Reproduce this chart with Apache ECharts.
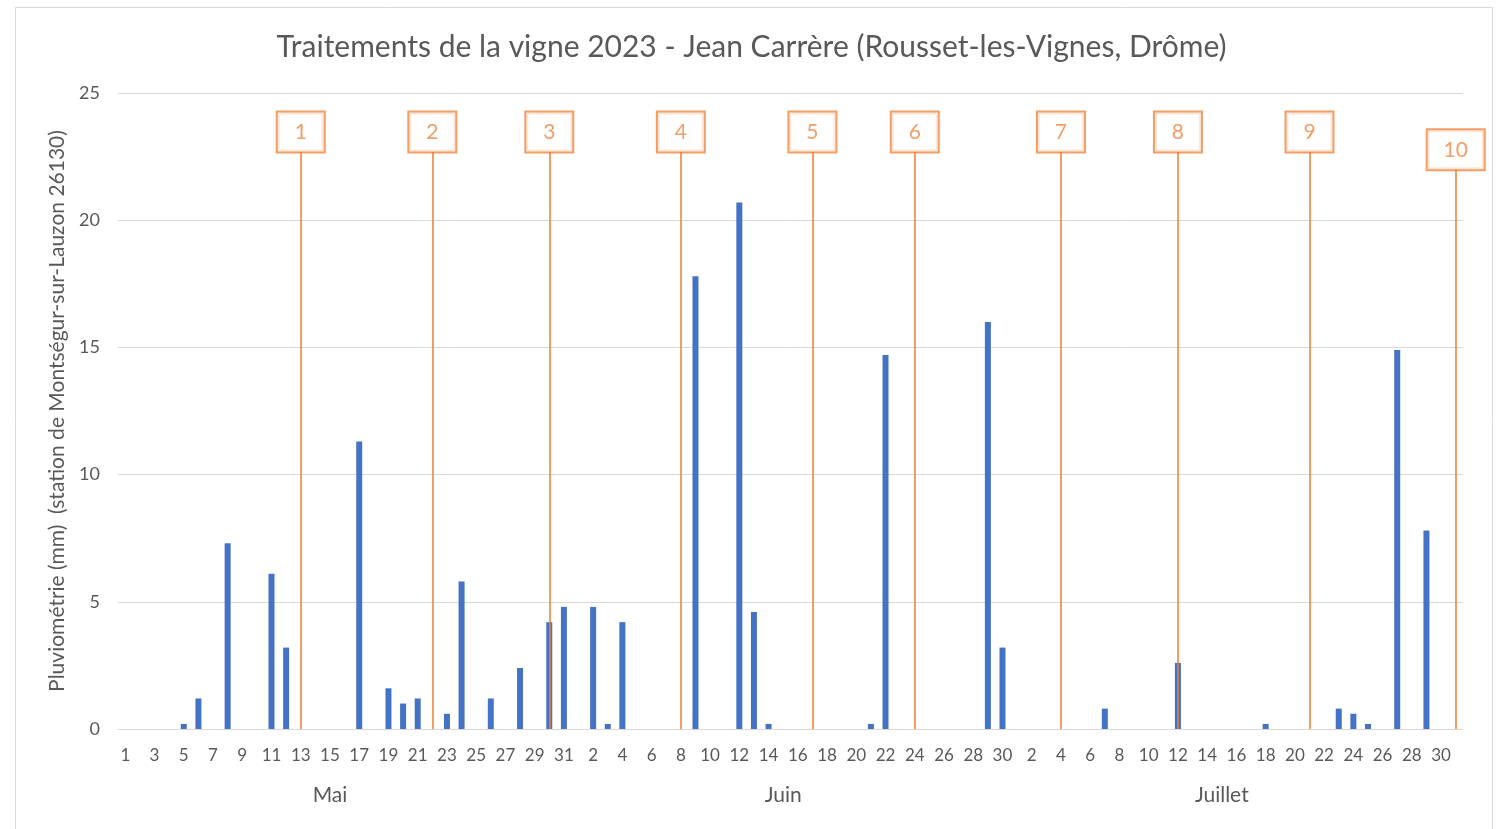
<!DOCTYPE html>
<html>
<head>
<meta charset="utf-8">
<script src="https://cdn.jsdelivr.net/npm/echarts@6/dist/echarts.min.js"></script>
<style>
html,body{margin:0;padding:0;background:#fff;}
#chart{width:1503px;height:829px;}
</style>
</head>
<body>
<div id="chart"></div>
<script>
// ---- Data ----
const titleText = 'Traitements de la vigne 2023 - Jean Carrère (Rousset-les-Vignes, Drôme)';
const yAxisTitle = 'Pluviométrie (mm)  (station de Montségur-sur-Lauzon 26130)';
const months = ['Mai', 'Juin', 'Juillet'];
const monthNumbers = ['05', '06', '07'];
const monthLengths = [31, 30, 31];
const yTicks = [0, 5, 10, 15, 20, 25];

const rainDates = ['2023-05-05','2023-05-06','2023-05-08','2023-05-11','2023-05-12','2023-05-17','2023-05-19','2023-05-20','2023-05-21','2023-05-23','2023-05-24','2023-05-26','2023-05-28','2023-05-30','2023-05-31','2023-06-02','2023-06-03','2023-06-04','2023-06-09','2023-06-12','2023-06-13','2023-06-14','2023-06-21','2023-06-22','2023-06-29','2023-06-30','2023-07-07','2023-07-12','2023-07-18','2023-07-23','2023-07-24','2023-07-25','2023-07-27','2023-07-29'];
const rainValues = [0.2,1.2,7.3,6.1,3.2,11.3,1.6,1.0,1.2,0.6,5.8,1.2,2.4,4.2,4.8,4.8,0.2,4.2,17.8,20.7,4.6,0.2,0.2,14.7,16.0,3.2,0.8,2.6,0.2,0.8,0.6,0.2,14.9,7.8];

const treatmentDates = ['2023-05-13','2023-05-22','2023-05-30','2023-06-08','2023-06-17','2023-06-24','2023-07-04','2023-07-12','2023-07-21','2023-07-31'];
const treatmentLabels = ['1','2','3','4','5','6','7','8','9','10'];
const treatmentLevels = [22.7,22.7,22.7,22.7,22.7,22.7,22.7,22.7,22.7,22.0];

// ---- Build categories (every day from 1 May to 31 July) ----
const categories = [];
monthLengths.forEach((n, m) => {
  for (let d = 1; d <= n; d++) {
    categories.push('2023-' + monthNumbers[m] + '-' + (d < 10 ? '0' + d : '' + d));
  }
});
const rainMap = {};
rainDates.forEach((d, i) => { rainMap[d] = rainValues[i]; });
const barData = categories.map(c => (c in rainMap ? rainMap[c] : 0));

const orange = '#ED7D31';
const fontFam = 'Lato, "Open Sans", sans-serif';

const markLineData = treatmentDates.map((d, i) => [
  { coord: [d, 0] },
  {
    coord: [d, treatmentLevels[i]],
    label: { formatter: treatmentLabels[i], width: treatmentLabels[i].length > 1 ? 56 : 46 }
  }
]);

const chart = echarts.init(document.getElementById('chart'), null, { renderer: 'canvas' });
chart.setOption({
  backgroundColor: '#ffffff',
  animation: false,
  title: {
    text: titleText,
    left: 'center',
    top: 27,
    textStyle: { fontFamily: fontFam, fontSize: 30, fontWeight: 'normal', color: '#595959' }
  },
  graphic: [{
    type: 'rect', silent: true, z: -1,
    shape: { x: 15.5, y: 7.5, width: 1477, height: 830 },
    style: { fill: 'none', stroke: '#D9D9D9', lineWidth: 1 }
  }],
  grid: { left: 118, right: 40, top: 93, bottom: 100, containLabel: false },
  xAxis: [{
    type: 'category',
    data: categories,
    axisLine: { lineStyle: { color: '#D9D9D9', width: 1 } },
    axisTick: { show: false },
    axisLabel: {
      interval: 1,
      margin: 18,
      color: '#595959',
      fontFamily: fontFam,
      fontSize: 17,
      formatter: v => String(parseInt(v.slice(8), 10))
    }
  }, {
    type: 'category',
    data: categories,
    position: 'bottom',
    axisLine: { show: false },
    axisTick: { show: false },
    axisLabel: {
      interval: (idx, v) => v.slice(8) === '15',
      margin: 56,
      color: '#595959',
      fontFamily: fontFam,
      fontSize: 21,
      formatter: v => months[monthNumbers.indexOf(v.slice(5, 7))]
    }
  }],
  yAxis: {
    type: 'value',
    min: yTicks[0],
    max: yTicks[yTicks.length - 1],
    interval: 5,
    name: yAxisTitle,
    nameLocation: 'middle',
    nameGap: 50,
    nameTextStyle: { fontFamily: fontFam, fontSize: 21, color: '#595959' },
    axisLine: { show: false },
    axisTick: { show: false },
    axisLabel: { margin: 18, color: '#595959', fontFamily: fontFam, fontSize: 18 },
    splitLine: { lineStyle: { color: '#D9D9D9', width: 1 } }
  },
  series: [{
    type: 'bar',
    xAxisIndex: 0,
    data: barData,
    barWidth: 6,
    itemStyle: { color: '#4472C4' },
    emphasis: { disabled: true },
    markLine: {
      silent: true,
      symbol: ['none', 'none'],
      animation: false,
      lineStyle: { color: orange, width: 2, type: 'solid', opacity: 0.75 },
      emphasis: { disabled: true },
      label: {
        show: true,
        position: 'end',
        distance: 0,
        color: orange,
        fontFamily: fontFam,
        fontSize: 21,
        backgroundColor: '#ffffff',
        borderColor: orange,
        borderWidth: 2,
        height: 39,
        lineHeight: 39,
        align: 'center'
      },
      data: markLineData
    }
  }]
});
</script>
</body>
</html>
